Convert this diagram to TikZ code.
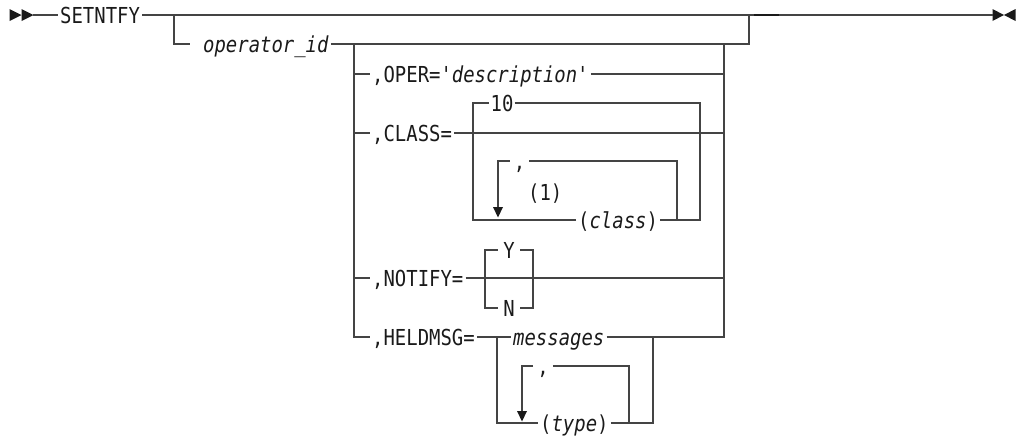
\documentclass[tikz,border=0pt]{standalone}
\usepackage{fontspec}
\setmonofont[FakeStretch=0.86]{DejaVu Sans Mono}
\definecolor{railgray}{HTML}{444444}
\definecolor{ink}{HTML}{1A1A1A}
\begin{document}
\begin{tikzpicture}[x=1pt,y=-1pt,
  rail/.style={draw=railgray,line width=1.35pt},
  kw/.style={font=\ttfamily\fontsize{22}{22}\selectfont,text=ink,
    inner xsep=2pt,inner ysep=0pt,text height=16pt,text depth=0pt,anchor=west},
  kwc/.style={kw,anchor=center},
  tipfill/.style={fill=ink,draw=none}]
\useasboundingbox (0,0) rectangle (1021,440);

% ---- labels ----
\node[kw] (set)    at (58,15)   {SETNTFY};
\node[kw] (opid)   at (190,44)  {\hspace*{11pt}\textit{operator\_id}};
\node[kw] (oper)   at (370,74)  {,OPER='\textit{description}'};
\node[kw] (class)  at (370,133) {,CLASS=};
\node[kwc,inner xsep=1pt] (ten) at (502,103) {10};
\node[kwc,inner xsep=4pt] (c1)  at (519.5,161) {,};
\node[kw] (fn)     at (526,192) {(1)};
\node[kw] (cls)    at (576,220) {(\textit{class})};
\node[kw] (notify) at (370,278) {,NOTIFY=};
\node[kwc,inner xsep=5.5pt] (yy) at (509,250) {Y};
\node[kwc,inner xsep=5.5pt] (nn) at (509,308) {N};
\node[kw] (held)   at (370,337) {,HELDMSG=};
\node[kw] (msg)    at (511,337) {\textit{messages}};
\node[kwc,inner xsep=4pt] (c2)  at (543,366) {,};
\node[kw] (type)   at (538,423) {(\textit{type})};

% ---- junction points ----
\coordinate (start) at (33,15);
\coordinate (stop)  at (993,15);
\coordinate (b1)    at (174,15);
\coordinate (j1)    at (749,15);
\coordinate (g1)    at (354,44);
\coordinate (g2)    at (724,44);
\coordinate (cL)    at (473,133);
\coordinate (cR)    at (700,133);
\coordinate (l1L)   at (498,207);
\coordinate (l1R)   at (677,220);
\coordinate (yL)    at (485,278);
\coordinate (yR)    at (533,278);
\coordinate (hL)    at (497,337);
\coordinate (hR)    at (653,337);
\coordinate (l2L)   at (522,411);
\coordinate (l2R)   at (629,423);

% ---- start and end markers ----
\fill[tipfill] (9.5,9) -- (21.5,15) -- (9.5,21) -- cycle;
\fill[tipfill] (21.5,9) -- (33.5,15) -- (21.5,21) -- cycle;
\fill[tipfill] (992.5,9) -- (1004,15) -- (992.5,21) -- cycle;
\fill[tipfill] (1015.5,9) -- (1004,15) -- (1015.5,21) -- cycle;

% ---- main line ----
\draw[rail] (start) -- (set.west);
\draw[rail] (set.east) -- (stop);
\draw[line width=2.4pt,ink] (754,15) -- (779,15);

% ---- optional operator_id group ----
\draw[rail] (b1) |- (opid.west);
\draw[rail] (opid.east) -| (j1);

% ---- keyword choices ----
\draw[rail] (g1) |- (held.west);
\draw[rail] (msg.east) -| (g2);
\draw[rail] (g1 |- oper.west) -- (oper.west);
\draw[rail] (oper.east) -- (oper.east -| g2);
\draw[rail] (g1 |- class.west) -- (class.west);
\draw[rail] (class.east) -- (class.east -| g2);
\draw[rail] (g1 |- notify.west) -- (notify.west);
\draw[rail] (notify.east) -- (notify.east -| g2);

% ---- CLASS= values ----
\draw[rail] (cls.west) -| (cL |- ten.west) -- (ten.west);
\draw[rail] (ten.east) -| (cR |- cls.east) -- (cls.east);
\draw[rail] (c1.west) -| (l1L);
\draw[rail] (c1.east) -| (l1R);
\fill[tipfill] (493,207) -- (503,207) -- (498,217.5) -- cycle;

% ---- NOTIFY= values ----
\draw[rail] (yy.west) -| (yL |- nn.west) -- (nn.west);
\draw[rail] (yy.east) -| (yR |- nn.east) -- (nn.east);

% ---- HELDMSG= values ----
\draw[rail] (held.east) -- (msg.west);
\draw[rail] (hL) |- (type.west);
\draw[rail] (type.east) -| (hR);
\draw[rail] (c2.west) -| (l2L);
\draw[rail] (c2.east) -| (l2R);
\fill[tipfill] (517,411) -- (527,411) -- (522,421.5) -- cycle;
\end{tikzpicture}
\end{document}
